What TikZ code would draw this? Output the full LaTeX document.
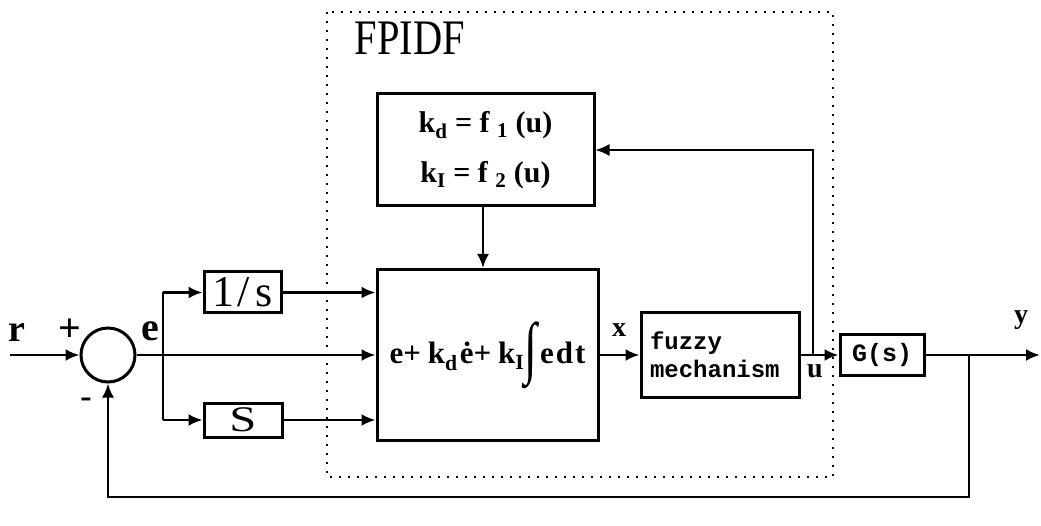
\documentclass[tikz,border=0pt]{standalone}
\usepackage{fontspec}
\setmainfont{Liberation Serif}
\setmonofont{Liberation Mono}
\usetikzlibrary{arrows.meta,calc}
\newcommand{\fs}[1]{\fontsize{#1}{#1}\selectfont}
\newcommand{\fsl}[2]{\fontsize{#1}{#2}\selectfont}
\newcommand{\bigint}{\raisebox{-0.45ex}{\scalebox{1.5}[2.2]{∫}}}
\begin{document}
\begin{tikzpicture}[x=1pt,y=-1pt,line width=2.5pt,
  blk/.style={draw,line width=3pt,inner sep=0pt},
  arr/.style={-{Latex[length=14pt,width=12pt]},line width=2.5pt},
  thinarr/.style={-{Latex[length=14pt,width=12pt]},line width=1.6pt},
  lbl/.style={font=\bfseries\fs{28}},
  frame/.style={line width=2.4pt,dash pattern=on 2.2pt off 6.8pt}]
\useasboundingbox (0,0) rectangle (1041,526);

% dotted FPIDF frame
\draw[frame] (327,12) rectangle (833,477);
\node[font=\fs{46}] (title) at (410,38) {\scalebox{0.88}[1.08]{FPIDF}};

% blocks
\node[blk,minimum width=217pt,minimum height=112pt,align=center,font=\bfseries\fs{30}] (kd) at (485.5,150)
  {k\textsubscript{d} = f \textsubscript{1} (u)\\[20pt] k\textsubscript{I} = f \textsubscript{2} (u)};
\node[blk,minimum width=221pt,minimum height=171pt,font=\bfseries\fs{31}] (main) at (487.5,355)
  {e+\kern7pt k\textsubscript{d}\kern2pt\.e+\kern7pt k\textsubscript{I}\bigint\kern3pt e\kern2pt d\kern2pt t};
\node[blk,circle,minimum size=54pt] (sum) at (108,355) {};
\node[blk,minimum width=77pt,minimum height=41pt,font=\fs{44}] (inv) at (242.5,292.5) {1\kern3pt/\kern6pt s};
\node[blk,minimum width=78pt,minimum height=34pt,font=\fs{36}] (sb) at (243,420) {\scalebox{1.35}[1]{S}};
\node[blk,minimum width=158pt,minimum height=84pt,font=\ttfamily\bfseries\fsl{24}{28},align=left,text width=140pt] (fz) at (720,355)
  {fuzzy\\mechanism};
\node[blk,minimum width=84pt,minimum height=40pt,font=\ttfamily\bfseries\fs{25}] (G) at (882,355) {G(s)};

% labels
\node[font=\bfseries\fs{38}] (lr) at (17,333) {r};
\node[font=\bfseries\fs{40}] (lp) at (70,330) {+};
\node[font=\bfseries\fs{34}] (lm) at (86,403) {-};
\node[font=\bfseries\fs{40}] (le) at (150,331) {e};
\node[lbl] (lx) at (619,330) {x};
\node[lbl] (lu) at (815,371) {u};
\node[lbl] (ly) at (1021,320) {y};

% coordinates
\coordinate (rin) at (10,355);
\coordinate (br) at (163,355);
\coordinate (ut) at (813,355);
\coordinate (fb) at (969,355);
\coordinate (fbb) at (969,497);
\coordinate (yout) at (1040,355);

% connectors
\draw[arr] (rin) -- (sum.west);
\draw[arr] (sum.east) -- (main.west);
\draw (br |- inv) -- (br |- sb);
\draw[arr] (br |- inv) -- (inv.west);
\draw[arr] (br |- sb) -- (sb.west);
\draw[arr] (inv.east) -- (main.west |- inv);
\draw[arr] (sb.east) -- (main.west |- sb);
\draw[arr] (kd.south -| 483,0) -- (main.north -| 483,0);
\draw[arr] (main.east) -- (fz.west);
\draw[arr] (fz.east) -- (G.west);
\draw[thinarr] (ut) |- (kd.east);
\draw[arr] (G.east) -- (yout);
\draw[arr] (fb) -- (fbb) -| (sum.south);
\end{tikzpicture}
\end{document}
